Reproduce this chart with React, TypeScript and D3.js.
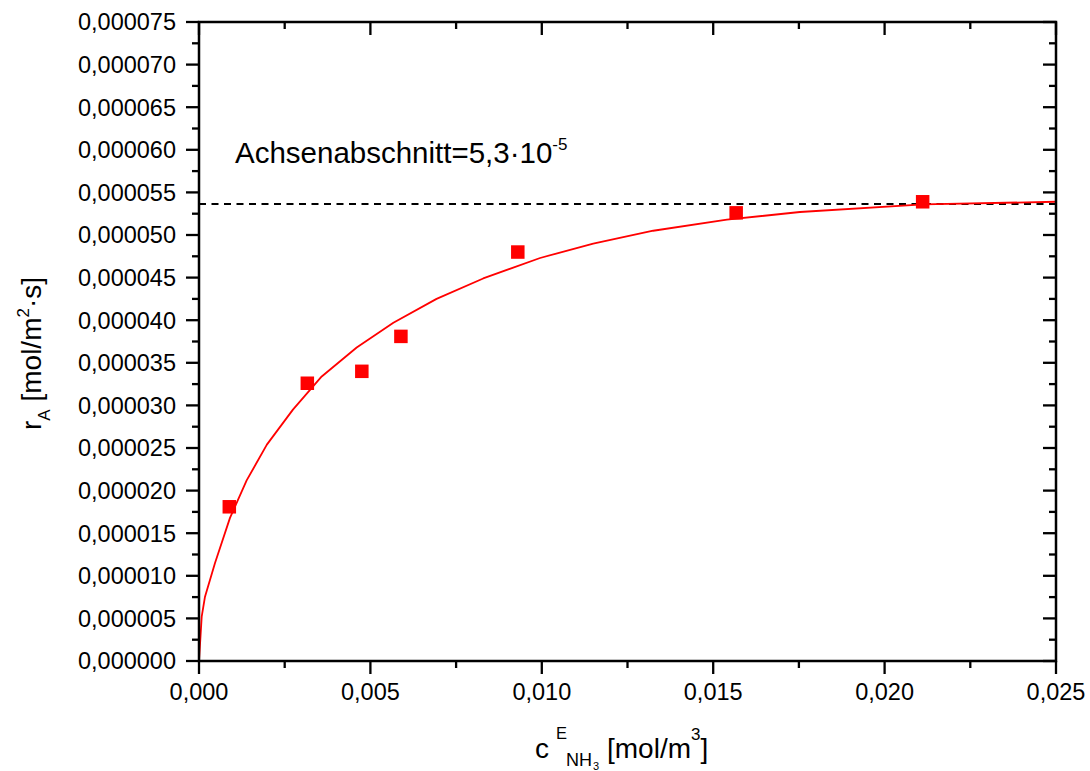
import React from "react";
import * as d3 from "d3";

const W = 1090;
const H = 771;
const M = { left: 199, right: 1056, top: 22, bottom: 661 };

// measured data points (c_NH3 [mol/m3], r_A [mol/m2 s])
const pointX = [0.000884, 0.00316, 0.00475, 0.00589, 0.0093, 0.01567, 0.02111];
const pointY = [1.81e-5, 3.26e-5, 3.4e-5, 3.81e-5, 4.8e-5, 5.26e-5, 5.39e-5];

// fit curve vertices
const curveX = [0, 0.0000788, 0.000175, 0.000467, 0.000904, 0.00139, 0.00198, 0.00274, 0.00358, 0.0046, 0.00567, 0.00693, 0.00829, 0.00995, 0.0115, 0.01325, 0.0154, 0.01753, 0.02113, 0.025];
const curveY = [0, 5.2e-6, 7.55e-6, 1.15e-5, 1.68e-5, 2.12e-5, 2.54e-5, 2.95e-5, 3.34e-5, 3.68e-5, 3.97e-5, 4.25e-5, 4.49e-5, 4.73e-5, 4.9e-5, 5.05e-5, 5.18e-5, 5.27e-5, 5.36e-5, 5.39e-5];

const interceptValue = 5.364e-5;

const xMajor = [0, 0.005, 0.01, 0.015, 0.02, 0.025];
const xMinor = [0.0025, 0.0075, 0.0125, 0.0175, 0.0225];
const yMajor = [0, 5e-6, 1e-5, 1.5e-5, 2e-5, 2.5e-5, 3e-5, 3.5e-5, 4e-5, 4.5e-5, 5e-5, 5.5e-5, 6e-5, 6.5e-5, 7e-5, 7.5e-5];
const yMinor = [2.5e-6, 7.5e-6, 1.25e-5, 1.75e-5, 2.25e-5, 2.75e-5, 3.25e-5, 3.75e-5, 4.25e-5, 4.75e-5, 5.25e-5, 5.75e-5, 6.25e-5, 6.75e-5, 7.25e-5];

export default function App() {
  const x = d3.scaleLinear().domain([0, 0.025]).range([M.left, M.right]);
  const y = d3.scaleLinear().domain([0, 7.5e-5]).range([M.bottom, M.top]);
  const fx = (v: number) => d3.format(".3f")(v).replace(".", ",");
  const fy = (v: number) => d3.format(".6f")(v).replace(".", ",");
  const line = d3
    .line<number>()
    .x((_, i) => x(curveX[i]))
    .y((d) => y(d));
  const font = "'Liberation Sans', Arial, Helvetica, sans-serif";
  const sq = 13.5;
  const tw = 2.3;
  const MAJ = 13;
  const MIN = 7;

  return (
    <svg width={W} height={H} style={{ position: "absolute", left: 0, top: 0, background: "#fff" }} fontFamily={font}>
      <rect x={0} y={0} width={W} height={H} fill="#fff" />
      {/* dashed intercept line */}
      <line x1={M.left} x2={M.right} y1={y(interceptValue)} y2={y(interceptValue)} stroke="#000" strokeWidth={1.9} strokeDasharray="7 5.5" />
      {/* fit curve */}
      <path d={line(curveY) || ""} fill="none" stroke="#ff0000" strokeWidth={1.8} strokeLinejoin="round" />
      {/* points */}
      {pointX.map((px, i) => (
        <rect key={i} x={x(px) - sq / 2} y={y(pointY[i]) - sq / 2} width={sq} height={sq} fill="#ff0000" />
      ))}
      {/* frame */}
      <rect x={M.left} y={M.top} width={M.right - M.left} height={M.bottom - M.top} fill="none" stroke="#000" strokeWidth={2.5} />
      {/* bottom ticks (out) & top ticks (in) */}
      {xMajor.map((v) => (
        <g key={"xM" + v}>
          <line x1={x(v)} x2={x(v)} y1={M.bottom} y2={M.bottom + MAJ} stroke="#000" strokeWidth={tw} />
          <line x1={x(v)} x2={x(v)} y1={M.top} y2={M.top + MAJ} stroke="#000" strokeWidth={tw} />
          <text x={x(v)} y={700} fontSize={23.5} textAnchor="middle" fill="#000">
            {fx(v)}
          </text>
        </g>
      ))}
      {xMinor.map((v) => (
        <g key={"xm" + v}>
          <line x1={x(v)} x2={x(v)} y1={M.bottom} y2={M.bottom + MIN} stroke="#000" strokeWidth={tw} />
          <line x1={x(v)} x2={x(v)} y1={M.top} y2={M.top + MIN} stroke="#000" strokeWidth={tw} />
        </g>
      ))}
      {/* left ticks (out) & right ticks (in) */}
      {yMajor.map((v) => (
        <g key={"yM" + v}>
          <line x1={M.left - MAJ} x2={M.left} y1={y(v)} y2={y(v)} stroke="#000" strokeWidth={tw} />
          <line x1={M.right - MAJ} x2={M.right} y1={y(v)} y2={y(v)} stroke="#000" strokeWidth={tw} />
          <text x={176} y={y(v) + 8.3} fontSize={23.5} textAnchor="end" fill="#000">
            {fy(v)}
          </text>
        </g>
      ))}
      {yMinor.map((v) => (
        <g key={"ym" + v}>
          <line x1={M.left - MIN} x2={M.left} y1={y(v)} y2={y(v)} stroke="#000" strokeWidth={tw} />
          <line x1={M.right - MIN} x2={M.right} y1={y(v)} y2={y(v)} stroke="#000" strokeWidth={tw} />
        </g>
      ))}
      {/* annotation */}
      <text x={235} y={163} fontSize={29.5} fill="#000">
        Achsenabschnitt=5,3·10
        <tspan fontSize={17} dy={-13}>-5</tspan>
      </text>
      {/* x axis title */}
      <text y={758} fontSize={28} fill="#000">
        <tspan x={535}>c</tspan>
        <tspan x={556} y={739} fontSize={16.5}>E</tspan>
        <tspan x={566} y={766} fontSize={18}>NH</tspan>
        <tspan x={593} y={770} fontSize={11}>3</tspan>
        <tspan x={607} y={758}>[mol/m</tspan>
        <tspan y={740} fontSize={17}>3</tspan>
        <tspan y={758}>]</tspan>
      </text>
      {/* y axis title */}
      <text transform="translate(41,430) rotate(-90)" fontSize={28} fill="#000">
        r<tspan fontSize={17} dy={9}>A</tspan>
        <tspan dy={-9}> [mol/m</tspan>
        <tspan fontSize={17} dy={-12}>2</tspan>
        <tspan dy={12}>·s]</tspan>
      </text>
    </svg>
  );
}
